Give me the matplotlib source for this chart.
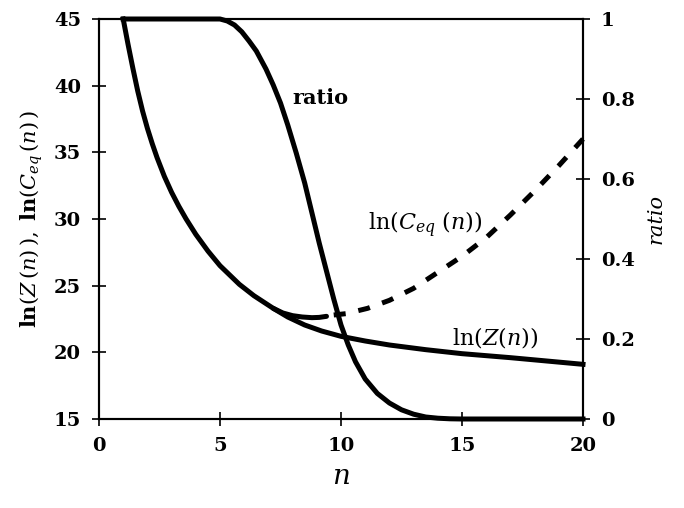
import matplotlib
matplotlib.use("Agg")
import matplotlib.pyplot as plt

plt.rcParams["font.family"] = "DejaVu Serif"
plt.rcParams["mathtext.fontset"] = "dejavuserif"

# ln(Z(n)) curve
n_z = [1, 1.2, 1.4, 1.6, 1.8, 2.0, 2.2, 2.4, 2.7, 3.0, 3.3, 3.6, 4.0, 4.5, 5.0, 5.8,
       6.4, 7.2, 7.8, 8.5, 9.2, 10, 11, 12, 13.5, 15, 17, 18.5, 20]
ln_z = [45, 43.1, 41.3, 39.6, 38.1, 36.8, 35.65, 34.6, 33.2, 32.0, 30.95, 30.0, 28.85,
        27.6, 26.5, 25.1, 24.25, 23.3, 22.65, 22.05, 21.6, 21.2, 20.85, 20.55, 20.2,
        19.9, 19.6, 19.35, 19.1]

# ln(Ceq(n)): solid part and dashed continuation
n_ceq = [7.2, 7.6, 8.0, 8.4, 8.8, 9.1, 9.4]
ln_ceq = [23.3, 22.95, 22.75, 22.65, 22.6, 22.62, 22.7]
n_ceq_dash = [9.7, 10.2, 11.1, 12.0, 13.0, 14.0, 15.0, 16.0, 17.0, 18.0, 19.0, 20.0]
ln_ceq_dash = [22.8, 22.9, 23.3, 23.9, 24.8, 26.0, 27.2, 28.6, 30.3, 32.1, 34.0, 36.0]

# ratio (right axis)
n_ratio = [1, 5.0, 5.3, 5.6, 5.9, 6.2, 6.5, 6.9, 7.2, 7.5, 7.8, 8.15, 8.5, 8.8, 9.1,
           9.4, 9.7, 10.0, 10.3, 10.6, 11.0, 11.5, 12.0, 12.5, 13.0, 13.5, 14.0,
           14.5, 15.0, 20.0]
ratio = [1, 1, 0.995, 0.985, 0.968, 0.945, 0.92, 0.875, 0.835, 0.79, 0.735, 0.665,
         0.59, 0.515, 0.44, 0.37, 0.30, 0.235, 0.185, 0.143, 0.10, 0.064, 0.04,
         0.023, 0.012, 0.005, 0.002, 0.0005, 0, 0]

left_ticks = [15, 20, 25, 30, 35, 40, 45]
right_ticks = [0, 0.2, 0.4, 0.6, 0.8, 1]
right_labels = ["0", "0.2", "0.4", "0.6", "0.8", "1"]
x_ticks = [0, 5, 10, 15, 20]

fig = plt.figure(figsize=(6.84, 5.08), dpi=100)
ax = fig.add_axes([99 / 684, 1 - 419 / 508, 484 / 684, 400 / 508])
ax2 = ax.twinx()

lw = 3.6
ax.plot(n_z, ln_z, color="black", lw=lw, solid_joinstyle="round", clip_on=False)
ax.plot(n_ceq, ln_ceq, color="black", lw=lw, solid_capstyle="round",
        solid_joinstyle="round")
ax.plot(n_ceq_dash, ln_ceq_dash, color="black", lw=lw, linestyle=(0, (2.4, 2.6)),
        dash_capstyle="butt", clip_on=False)
ax2.plot(n_ratio, ratio, color="black", lw=lw, solid_joinstyle="round", clip_on=False)

ax.set_xlim(0, 20)
ax.set_ylim(15, 45)
ax2.set_ylim(0, 1)

ax.set_xticks(x_ticks)
ax.set_yticks(left_ticks)
ax2.set_yticks(right_ticks)
ax2.set_yticklabels(right_labels)

for a in (ax, ax2):
    a.tick_params(direction="inout", length=10, width=1.2, labelsize=14, pad=8)
    for lab in a.get_xticklabels() + a.get_yticklabels():
        lab.set_fontweight("bold")
    for s in a.spines.values():
        s.set_linewidth(1.5)

ax.set_xlabel(r"$n$", fontsize=20, labelpad=6)
ax.set_ylabel(r"$\mathbf{ln}(Z\,(n)\,),\ \mathbf{ln}(C_{eq}\,(n)\,)$", fontsize=15, labelpad=6)
ax2.set_ylabel("ratio", fontsize=15, style="italic", labelpad=8)

ax.text(8.0, 39.1, "ratio", fontsize=15, fontweight="bold", va="center", ha="left")
ax.text(11.1, 29.55, r"$\mathrm{ln}(C_{eq}\ (n))$", fontsize=16, va="center", ha="left")
ax.text(14.6, 21.1, r"$\mathrm{ln}(Z(n))$", fontsize=16, va="center", ha="left")

fig.savefig("out.png", dpi=100)
